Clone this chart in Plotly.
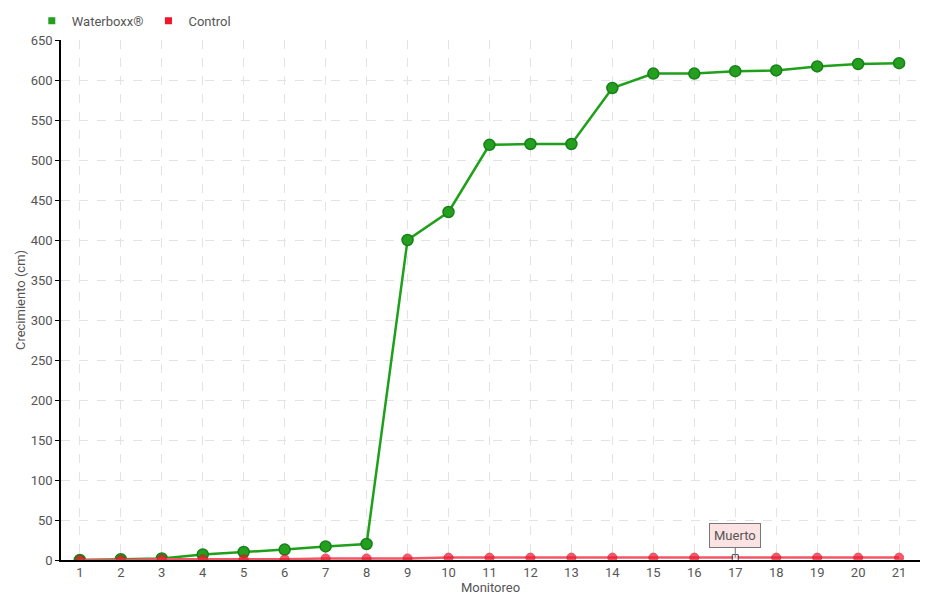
import plotly.graph_objects as go

monitoreo = list(range(1, 22))
waterboxx = [0, 1, 2, 7, 10, 13, 17, 20, 400, 435, 519, 520, 520, 590, 608, 608, 611, 612, 617, 620, 621]
control = [0, 0, 1, 1, 1, 1, 2, 2, 2, 3, 3, 3, 3, 3, 3, 3, 3, 3, 3, 3, 3]
muerto_idx = 16  # monitoreo 17

FONT = "Roboto, sans-serif"
TXT = "#555555"
GREEN = "#24a01e"
RED = "#f0152a"

fig = go.Figure()

fig.add_trace(go.Scatter(
    x=monitoreo, y=waterboxx, mode="lines+markers", name="Waterboxx®",
    showlegend=False,
    line=dict(color="#1fa01a", width=2.5),
    marker=dict(size=11, color=GREEN, line=dict(color="#17801a", width=1.5)),
))

ctrl_colors = [RED] * len(control)
ctrl_sizes = [9] * len(control)
ctrl_symbols = ["circle"] * len(control)
ctrl_lines = ["#d01020"] * len(control)
ctrl_colors[muerto_idx] = "white"
ctrl_sizes[muerto_idx] = 6
ctrl_symbols[muerto_idx] = "square"
ctrl_lines[muerto_idx] = "black"

fig.add_trace(go.Scatter(
    x=monitoreo, y=control, mode="lines+markers", name="Control",
    showlegend=False,
    line=dict(color="#f45565", width=2.5),
    marker=dict(size=ctrl_sizes, color=ctrl_colors, symbol=ctrl_symbols,
                line=dict(color=ctrl_lines, width=1)),
))

# legend-only entries (square swatches)
for name, color in [("Waterboxx®", GREEN), ("Control", RED)]:
    fig.add_trace(go.Scatter(
        x=[None], y=[None], mode="markers", name=name,
        marker=dict(symbol="square", size=7, color=color),
    ))

fig.add_annotation(
    x=monitoreo[muerto_idx], y=control[muerto_idx], text="Muerto",
    showarrow=True, arrowhead=0, arrowwidth=1, arrowcolor="#777777",
    ax=0, ay=-22, bgcolor="#fbe3e3", bordercolor="#777777", borderwidth=1,
    borderpad=4, font=dict(family=FONT, size=13, color=TXT),
)

# page body adds an 8px offset, so the figure is sized to fit the window
fig.update_layout(
    width=932, height=592,
    plot_bgcolor="white", paper_bgcolor="white",
    margin=dict(l=53, r=20, t=32, b=40, autoexpand=False),
    font=dict(family=FONT, size=13, color=TXT),
    showlegend=True,
    legend=dict(orientation="h", x=-0.034, y=1.037, xanchor="left", yanchor="middle",
                font=dict(size=13, color=TXT), itemwidth=30, bgcolor="rgba(0,0,0,0)"),
)
fig.update_xaxes(
    range=[0.54, 21.51], tickmode="array", tickvals=monitoreo,
    showgrid=True, gridcolor="#e3e3e3", griddash="dash",
    showline=True, linecolor="black", linewidth=1.5,
    ticks="", zeroline=False, automargin=False,
    title=dict(text="Monitoreo", standoff=0, font=dict(size=13, color=TXT)),
)
fig.update_yaxes(
    range=[0, 650], dtick=50,
    showgrid=True, gridcolor="#e3e3e3", griddash="dash",
    showline=True, linecolor="black", linewidth=1.5,
    ticks="outside", ticklen=4, tickcolor="black", zeroline=False, automargin=False,
    title=dict(text="Crecimiento (cm)", standoff=2, font=dict(size=13, color=TXT)),
)

fig.write_html("out.html")
